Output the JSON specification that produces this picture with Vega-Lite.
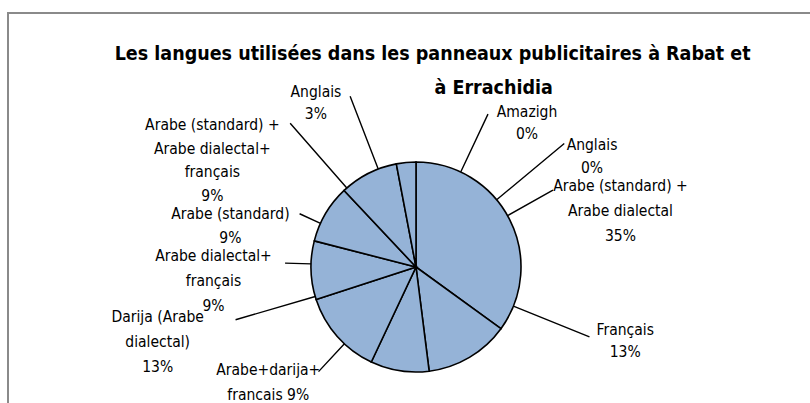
{
  "$schema": "https://vega.github.io/schema/vega-lite/v6.json",
  "autosize": "none",
  "padding": {"left": 8, "top": 13, "right": 0, "bottom": 0},
  "width": 816,
  "height": 508,
  "background": "white",
  "view": {"stroke": "#8a8a8a", "strokeWidth": 2},
  "title": {
    "text": ["Les langues utilisées dans les panneaux publicitaires à Rabat et\u00a0\u00a0\u00a0\u00a0\u00a0\u00a0\u00a0\u200b", "\u200b\u00a0\u00a0\u00a0\u00a0\u00a0\u00a0\u00a0\u00a0\u00a0\u00a0\u00a0\u00a0\u00a0à Errachidia"],
    "font": "DejaVu Sans Condensed, sans-serif",
    "fontSize": 19.5,
    "fontWeight": "bold",
    "lineHeight": 34,
    "anchor": "middle",
    "baseline": "top",
    "offset": 0,
    "dx": 38,
    "dy": 132,
    "color": "black"
  },
  "data": {
    "values": [
      {"id": 1, "cat": "Amazigh", "label": "Amazigh\n0%", "value": 0},
      {"id": 2, "cat": "Anglais", "label": "Anglais\n0%", "value": 0},
      {"id": 3, "cat": "Arabe (standard) + Arabe dialectal", "label": "Arabe (standard) +\nArabe dialectal\n35%", "value": 35},
      {"id": 4, "cat": "Français", "label": "Français\n13%", "value": 13},
      {"id": 5, "cat": "Arabe+darija+francais", "label": "Arabe+darija+\nfrancais 9%", "value": 9},
      {"id": 6, "cat": "Darija (Arabe dialectal)", "label": "Darija (Arabe\ndialectal)\n13%", "value": 13},
      {"id": 7, "cat": "Arabe dialectal+français", "label": "Arabe dialectal+\nfrançais\n9%", "value": 9},
      {"id": 8, "cat": "Arabe (standard)", "label": "Arabe (standard)\n9%", "value": 9},
      {"id": 9, "cat": "Arabe (standard) + Arabe dialectal+français", "label": "Arabe (standard) +\nArabe dialectal+\nfrançais\n9%", "value": 9},
      {"id": 10, "cat": "Anglais", "label": "Anglais\n3%", "value": 3}
    ]
  },
  "encoding": {
    "theta": {"field": "value", "type": "quantitative", "stack": true},
    "order": {"field": "id", "type": "quantitative"}
  },
  "layer": [
    {"mark": {"type": "arc", "outerRadius": 105, "fill": "#95b3d7", "stroke": "black", "strokeWidth": 1.6}},

    {"mark": {"type": "arc", "innerRadius": 105, "outerRadius": 169, "padAngle": 3, "thetaOffset": 0.44, "theta2Offset": 0.44, "fillOpacity": 0, "stroke": "black", "strokeWidth": 1.4}, "encoding": {"strokeOpacity": {"condition": {"test": "datum.id === 1", "value": 1}, "value": 0}}},
    {"mark": {"type": "arc", "innerRadius": 105, "outerRadius": 193, "padAngle": 3, "thetaOffset": 0.876, "theta2Offset": 0.876, "fillOpacity": 0, "stroke": "black", "strokeWidth": 1.4}, "encoding": {"strokeOpacity": {"condition": {"test": "datum.id === 2", "value": 1}, "value": 0}}},
    {"mark": {"type": "arc", "innerRadius": 105, "outerRadius": 157, "padAngle": 3, "thetaOffset": -0.04, "theta2Offset": -0.04, "fillOpacity": 0, "stroke": "black", "strokeWidth": 1.4}, "encoding": {"strokeOpacity": {"condition": {"test": "datum.id === 3", "value": 1}, "value": 0}}},
    {"mark": {"type": "arc", "innerRadius": 105, "outerRadius": 187, "padAngle": 3, "thetaOffset": -0.654, "theta2Offset": -0.654, "fillOpacity": 0, "stroke": "black", "strokeWidth": 1.4}, "encoding": {"strokeOpacity": {"condition": {"test": "datum.id === 4", "value": 1}, "value": 0}}},
    {"mark": {"type": "arc", "innerRadius": 105, "outerRadius": 143, "padAngle": 3, "thetaOffset": 0.593, "theta2Offset": 0.593, "fillOpacity": 0, "stroke": "black", "strokeWidth": 1.4}, "encoding": {"strokeOpacity": {"condition": {"test": "datum.id === 5", "value": 1}, "value": 0}}},
    {"mark": {"type": "arc", "innerRadius": 105, "outerRadius": 188, "padAngle": 3, "thetaOffset": 0.438, "theta2Offset": 0.438, "fillOpacity": 0, "stroke": "black", "strokeWidth": 1.4}, "encoding": {"strokeOpacity": {"condition": {"test": "datum.id === 6", "value": 1}, "value": 0}}},
    {"mark": {"type": "arc", "innerRadius": 105, "outerRadius": 131, "padAngle": 3, "thetaOffset": 0.061, "theta2Offset": 0.061, "fillOpacity": 0, "stroke": "black", "strokeWidth": 1.4}, "encoding": {"strokeOpacity": {"condition": {"test": "datum.id === 7", "value": 1}, "value": 0}}},
    {"mark": {"type": "arc", "innerRadius": 105, "outerRadius": 128, "padAngle": 3, "thetaOffset": -0.105, "theta2Offset": -0.105, "fillOpacity": 0, "stroke": "black", "strokeWidth": 1.4}, "encoding": {"strokeOpacity": {"condition": {"test": "datum.id === 8", "value": 1}, "value": 0}}},
    {"mark": {"type": "arc", "innerRadius": 105, "outerRadius": 191, "padAngle": 3, "thetaOffset": -0.248, "theta2Offset": -0.248, "fillOpacity": 0, "stroke": "black", "strokeWidth": 1.4}, "encoding": {"strokeOpacity": {"condition": {"test": "datum.id === 9", "value": 1}, "value": 0}}},
    {"mark": {"type": "arc", "innerRadius": 105, "outerRadius": 183, "padAngle": 3, "thetaOffset": -0.274, "theta2Offset": -0.274, "fillOpacity": 0, "stroke": "black", "strokeWidth": 1.4}, "encoding": {"strokeOpacity": {"condition": {"test": "datum.id === 10", "value": 1}, "value": 0}}},

    {"mark": {"type": "text", "radius": 182, "thetaOffset": 0.656, "dy": -11, "font": "DejaVu Sans Condensed, sans-serif", "fontSize": 15.5, "lineHeight": 22, "lineBreak": "\n", "color": "black"}, "encoding": {"text": {"condition": {"test": "datum.id === 1", "field": "label"}, "value": ""}}},
    {"mark": {"type": "text", "radius": 208, "thetaOffset": 1.009, "dy": -11, "font": "DejaVu Sans Condensed, sans-serif", "fontSize": 15.5, "lineHeight": 23, "lineBreak": "\n", "color": "black"}, "encoding": {"text": {"condition": {"test": "datum.id === 2", "field": "label"}, "value": ""}}},
    {"mark": {"type": "text", "radius": 212, "thetaOffset": 0.204, "dy": -25, "font": "DejaVu Sans Condensed, sans-serif", "fontSize": 15.5, "lineHeight": 25, "lineBreak": "\n", "color": "black"}, "encoding": {"text": {"condition": {"test": "datum.id === 3", "field": "label"}, "value": ""}}},
    {"mark": {"type": "text", "radius": 222, "thetaOffset": -0.696, "dy": -11, "font": "DejaVu Sans Condensed, sans-serif", "fontSize": 15.5, "lineHeight": 22, "lineBreak": "\n", "color": "black"}, "encoding": {"text": {"condition": {"test": "datum.id === 4", "field": "label"}, "value": ""}}},
    {"mark": {"type": "text", "radius": 187, "thetaOffset": 0.754, "dy": -12, "font": "DejaVu Sans Condensed, sans-serif", "fontSize": 15.5, "lineHeight": 25, "lineBreak": "\n", "color": "black"}, "encoding": {"text": {"condition": {"test": "datum.id === 5", "field": "label"}, "value": ""}}},
    {"mark": {"type": "text", "radius": 269, "thetaOffset": 0.44, "dy": -25, "font": "DejaVu Sans Condensed, sans-serif", "fontSize": 15.5, "lineHeight": 25, "lineBreak": "\n", "color": "black"}, "encoding": {"text": {"condition": {"test": "datum.id === 6", "field": "label"}, "value": ""}}},
    {"mark": {"type": "text", "radius": 203, "thetaOffset": -0.038, "dy": -25, "font": "DejaVu Sans Condensed, sans-serif", "fontSize": 15.5, "lineHeight": 25, "lineBreak": "\n", "color": "black"}, "encoding": {"text": {"condition": {"test": "datum.id === 7", "field": "label"}, "value": ""}}},
    {"mark": {"type": "text", "radius": 190, "thetaOffset": -0.318, "dy": -12, "font": "DejaVu Sans Condensed, sans-serif", "fontSize": 15.5, "lineHeight": 24, "lineBreak": "\n", "color": "black"}, "encoding": {"text": {"condition": {"test": "datum.id === 8", "field": "label"}, "value": ""}}},
    {"mark": {"type": "text", "radius": 230, "thetaOffset": -0.616, "dy": -35, "font": "DejaVu Sans Condensed, sans-serif", "fontSize": 15.5, "lineHeight": 23.5, "lineBreak": "\n", "color": "black"}, "encoding": {"text": {"condition": {"test": "datum.id === 9", "field": "label"}, "value": ""}}},
    {"mark": {"type": "text", "radius": 192, "thetaOffset": -0.454, "dy": -11, "font": "DejaVu Sans Condensed, sans-serif", "fontSize": 15.5, "lineHeight": 22, "lineBreak": "\n", "color": "black"}, "encoding": {"text": {"condition": {"test": "datum.id === 10", "field": "label"}, "value": ""}}}
  ]
}
